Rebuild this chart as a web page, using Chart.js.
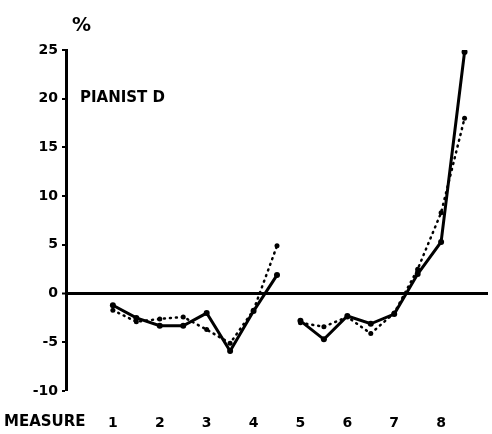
<!DOCTYPE html>
<html>
<head>
<meta charset="utf-8">
<script src="https://cdn.jsdelivr.net/npm/chart.js@4/dist/chart.umd.min.js"></script>
<style>
html,body{margin:0;padding:0;background:#fff;}
#wrap{width:492px;height:434px;position:relative;}
</style>
</head>
<body>
<div id="wrap"><canvas id="c" width="492" height="434"></canvas></div>
<script>
// ---- data ----
const measureTicks = [1,2,3,4,5,6,7,8];
const yTicks = [-10,-5,0,5,10,15,20,25];
const positionsA = [1,1.5,2,2.5,3,3.5,4,4.5];
const positionsB = [5,5.5,6,6.5,7,7.5,8,8.5];
const solidA  = [-1.2,-2.5,-3.3,-3.3,-2.0,-5.9,-1.8,1.9];
const solidB  = [-2.8,-4.7,-2.3,-3.1,-2.1,2.0,5.3,24.8];
const dottedA = [-1.7,-2.9,-2.6,-2.4,-3.7,-5.1,-1.7,4.9];
const dottedB = [-3.0,-3.4,-2.4,-4.1,-2.0,2.5,8.3,18.0];
const axisTitle = "MEASURE";
const panelLabel = "PIANIST D";
const unitLabel = "%";

function build(xsA, ysA, xsB, ysB){
  const d = xsA.map((x,i)=>({x:x,y:ysA[i]}));
  d.push({x:(xsA[xsA.length-1]+xsB[0])/2, y:null});
  return d.concat(xsB.map((x,i)=>({x:x,y:ysB[i]})));
}

const FONT = "'DejaVu Sans', sans-serif";

const textPlugin = {
  id:'texts',
  afterDraw(chart){
    const ctx = chart.ctx;
    ctx.save();
    ctx.fillStyle = '#000';
    ctx.textBaseline = 'middle';
    ctx.textAlign = 'left';
    ctx.font = "bold 15px " + FONT;
    ctx.fillText(axisTitle, 4, 422);
    ctx.fillText(panelLabel, 80, 98);
    ctx.font = "bold 19px " + FONT;
    ctx.fillText(unitLabel, 72, 26);
    ctx.restore();
  }
};

new Chart(document.getElementById('c'), {
  type:'line',
  data:{
    datasets:[
      {
        label:'solid',
        data: build(positionsA, solidA, positionsB, solidB),
        borderColor:'#000', backgroundColor:'#000',
        borderWidth:3, pointRadius:3, pointBorderWidth:0,
        tension:0, spanGaps:false
      },
      {
        label:'dotted',
        data: build(positionsA, dottedA, positionsB, dottedB),
        borderColor:'#000', backgroundColor:'#000',
        borderWidth:2.5, borderDash:[1,5], borderCapStyle:'round',
        pointRadius:2.5, pointBorderWidth:0,
        tension:0, spanGaps:false
      }
    ]
  },
  options:{
    responsive:false, animation:false,
    layout:{padding:{top:50,right:-4,left:0,bottom:0}},
    plugins:{legend:{display:false}, tooltip:{enabled:false}},
    scales:{
      x:{
        type:'linear', min:0, max:9,
        afterBuildTicks(s){ s.ticks = [0].concat(measureTicks).concat([9]).map(v=>({value:v})); },
        afterFit(s){ s.height = 43; s.paddingLeft = 0; s.paddingRight = 0; },
        grid:{display:false},
        border:{display:false},
        ticks:{
          autoSkip:false, maxRotation:0, padding:16,
          color:'#000', font:{family:FONT, weight:'bold', size:14},
          callback:(v)=> measureTicks.includes(v) ? String(v) : ''
        }
      },
      y:{
        min:-10, max:25,
        afterBuildTicks(s){ s.ticks = yTicks.map(v=>({value:v})); },
        afterFit(s){ s.width = 66; s.paddingTop = 0; s.paddingBottom = 0; },
        border:{display:true, width:3, color:'#000'},
        grid:{
          drawOnChartArea:true, drawTicks:true, tickLength:4,
          color:(c)=> c.tick && c.tick.value===0 ? '#000' : 'rgba(0,0,0,0)',
          lineWidth:(c)=> c.tick && c.tick.value===0 ? 3 : 0,
          tickColor:'#000', tickWidth:2
        },
        ticks:{
          padding:4, color:'#000',
          font:{family:FONT, weight:'bold', size:14}
        }
      }
    }
  },
  plugins:[textPlugin]
});
</script>
</body>
</html>
